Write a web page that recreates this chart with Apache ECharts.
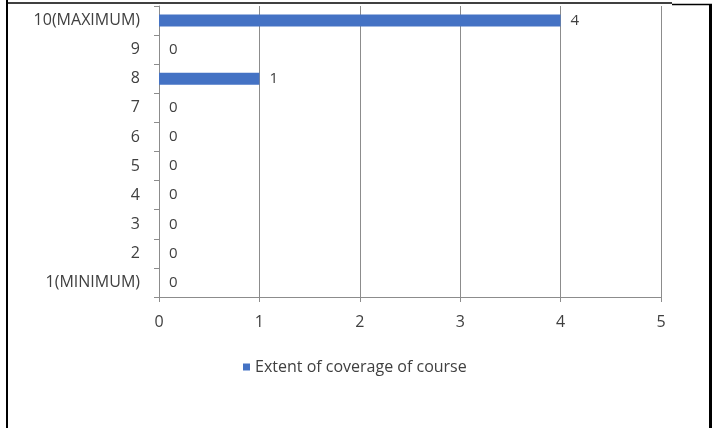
<!DOCTYPE html>
<html>
<head>
<meta charset="utf-8">
<script src="https://cdn.jsdelivr.net/npm/echarts@6/dist/echarts.min.js"></script>
<style>
html,body{margin:0;padding:0;background:#fff;}
#chart{width:718px;height:428px;}
</style>
</head>
<body>
<div id="chart"></div>
<script>
const categories = ['1(MINIMUM)', '2', '3', '4', '5', '6', '7', '8', '9', '10(MAXIMUM)'];
const seriesName = 'Extent of coverage of course';
const values = [0, 0, 0, 0, 0, 0, 0, 1, 0, 4];
const xTicks = [0, 1, 2, 3, 4, 5];

const FONT = '"Open Sans", sans-serif';
const TXT = '#404040';
const AX = '#8c8c8c';

const chart = echarts.init(document.getElementById('chart'));
chart.setOption({
  animation: false,
  backgroundColor: '#ffffff',
  grid: { left: 159, right: 57, top: 6, bottom: 131, containLabel: false },
  xAxis: {
    type: 'value',
    min: xTicks[0],
    max: xTicks[xTicks.length - 1],
    interval: 1,
    axisLine: { show: true, lineStyle: { color: AX, width: 1 } },
    axisTick: { show: true, length: 5, lineStyle: { color: AX } },
    splitLine: { show: true, lineStyle: { color: AX, width: 1 } },
    axisLabel: { color: TXT, fontFamily: FONT, fontSize: 16, margin: 17 }
  },
  yAxis: {
    type: 'category',
    data: categories,
    axisLine: { show: true, lineStyle: { color: AX, width: 1 } },
    axisTick: { show: true, length: 5, lineStyle: { color: AX } },
    axisLabel: { color: TXT, fontFamily: FONT, fontSize: 16, margin: 19 }
  },
  legend: {
    data: [seriesName],
    left: 238,
    top: 354,
    icon: 'rect',
    itemWidth: 7,
    itemHeight: 7,
    textStyle: { color: TXT, fontFamily: FONT, fontSize: 16 }
  },
  series: [{
    name: seriesName,
    type: 'bar',
    data: values,
    barWidth: 12,
    itemStyle: { color: '#4472c4' },
    label: {
      show: true,
      position: 'right',
      distance: 10,
      color: TXT,
      fontFamily: FONT,
      fontSize: 15
    }
  }],
  graphic: [
    { type: 'line', shape: { x1: 7, y1: 0, x2: 7, y2: 428 }, style: { stroke: '#000', lineWidth: 2 } },
    { type: 'line', shape: { x1: 6, y1: 3, x2: 672, y2: 3 }, style: { stroke: '#000', lineWidth: 1.5 } },
    { type: 'line', shape: { x1: 672, y1: 4.5, x2: 712, y2: 4.5 }, style: { stroke: '#000', lineWidth: 1.5 } },
    { type: 'line', shape: { x1: 710.5, y1: 4, x2: 710.5, y2: 428 }, style: { stroke: '#000', lineWidth: 3 } }
  ]
});
</script>
</body>
</html>
